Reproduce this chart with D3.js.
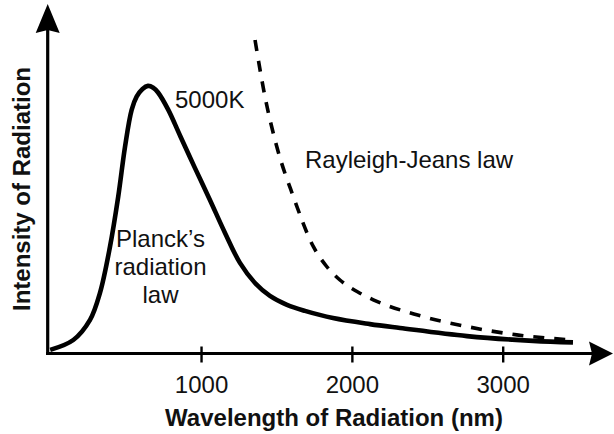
<!DOCTYPE html>
<html><head><meta charset="utf-8">
<script src="https://cdn.jsdelivr.net/npm/d3@7"></script>
<style>
html,body{margin:0;padding:0;background:#fff;}
svg{display:block;}
text{font-family:"Liberation Sans",Arial,Helvetica,sans-serif;fill:#111;}
</style></head>
<body>
<svg id="chart" width="614" height="434"></svg>
<script>
// Planck's radiation law, 5000K (wavelength in nm, relative intensity)
const planckWavelength = [0, 153, 264, 330, 396, 451, 496, 540, 573, 612, 648, 683, 715, 783, 862, 960, 1059, 1159, 1258, 1358, 1457, 1570, 1689, 1875, 2120, 2319, 2763, 3201, 3466];
const planckIntensity  = [1.2, 4.5, 11.2, 20.2, 35.5, 52.3, 68.9, 81.2, 85.6, 88.2, 89.2, 88.6, 87.0, 81.2, 72.5, 61.8, 51.2, 40.2, 30.2, 23.5, 19.2, 16.2, 14.2, 11.8, 9.8, 8.5, 5.8, 4.2, 3.7];
// Rayleigh-Jeans law
const rjWavelength = [1358, 1424, 1502, 1612, 1745, 1833, 1921, 2054, 2142, 2430, 2761, 3093, 3468];
const rjIntensity  = [104.5, 85.6, 69, 52.3, 35.6, 29, 24.5, 20.1, 17.9, 12.9, 9, 6.2, 4.5];
// Axis ticks
const xTicks = [1000, 2000, 3000];
const xTickLabels = ["1000", "2000", "3000"];

const svg = d3.select("#chart");
const x = d3.scaleLinear().domain([0, 3000]).range([50.2, 502.7]);
const y = d3.scaleLinear().domain([0, 100]).range([353.5, 53.5]);

const axisY = y(0), axisX = 47.7;

// Axes lines
svg.append("line").attr("x1", axisX).attr("y1", axisY + 1.5).attr("x2", axisX).attr("y2", 30)
  .attr("stroke", "#000").attr("stroke-width", 3.2);
svg.append("line").attr("x1", axisX - 1.6).attr("y1", axisY).attr("x2", 592).attr("y2", axisY)
  .attr("stroke", "#000").attr("stroke-width", 3.2);
// arrowheads
svg.append("path").attr("d", `M${axisX},4 L${axisX + 12},33 L${axisX},30 L${axisX - 12},33 Z`).attr("fill", "#000");
svg.append("path").attr("d", `M613,${axisY} L589,${axisY - 12} L592,${axisY} L589,${axisY + 12} Z`).attr("fill", "#000");

// x axis ticks via d3 axis
const xAxis = d3.axisBottom(x).tickValues(xTicks).tickFormat((d, i) => xTickLabels[i]).tickSize(8);
const gx = svg.append("g").attr("transform", `translate(0,${axisY})`).call(xAxis);
gx.select(".domain").remove();
gx.selectAll(".tick line").attr("y1", -7).attr("y2", 9).attr("stroke", "#000").attr("stroke-width", 2.4);
gx.selectAll(".tick text").attr("y", 39).attr("dy", 0)
  .style("font-family", '"Liberation Sans",Arial,sans-serif').style("font-size", "24px").attr("fill", "#111");

// curves
const planck = planckWavelength.map((w, i) => [w, planckIntensity[i]]);
const rj = rjWavelength.map((w, i) => [w, rjIntensity[i]]);

svg.append("path").datum(planck)
  .attr("d", d3.line().x(d => x(d[0])).y(d => y(d[1])).curve(d3.curveCatmullRom.alpha(0.5)))
  .attr("fill", "none").attr("stroke", "#000").attr("stroke-width", 4.6).attr("stroke-linejoin", "round");

svg.append("path").datum(rj)
  .attr("d", d3.line().x(d => x(d[0])).y(d => y(d[1])).curve(d3.curveMonotoneX))
  .attr("fill", "none").attr("stroke", "#000").attr("stroke-width", 3.6).attr("stroke-dasharray", "11,10");

// labels
svg.append("text").attr("x", 175).attr("y", 108).style("font-size", "24px").text("5000K");
svg.append("text").attr("x", 305).attr("y", 168).style("font-size", "24px").text("Rayleigh-Jeans law");
const pl = svg.append("text").attr("text-anchor", "middle").style("font-size", "24px");
["Planck\u2019s", "radiation", "law"].forEach((t, i) => {
  pl.append("tspan").attr("x", 160.5).attr("y", 246.5 + i * 28.4).text(t);
});

// axis titles
svg.append("text").attr("x", 334).attr("y", 426).attr("text-anchor", "middle")
  .style("font-size", "24px").style("font-weight", "bold").text("Wavelength of Radiation (nm)");
svg.append("text").attr("transform", "translate(29.5,189) rotate(-90)").attr("text-anchor", "middle")
  .style("font-size", "24px").style("font-weight", "bold").text("Intensity of Radiation");
</script>
</body></html>
